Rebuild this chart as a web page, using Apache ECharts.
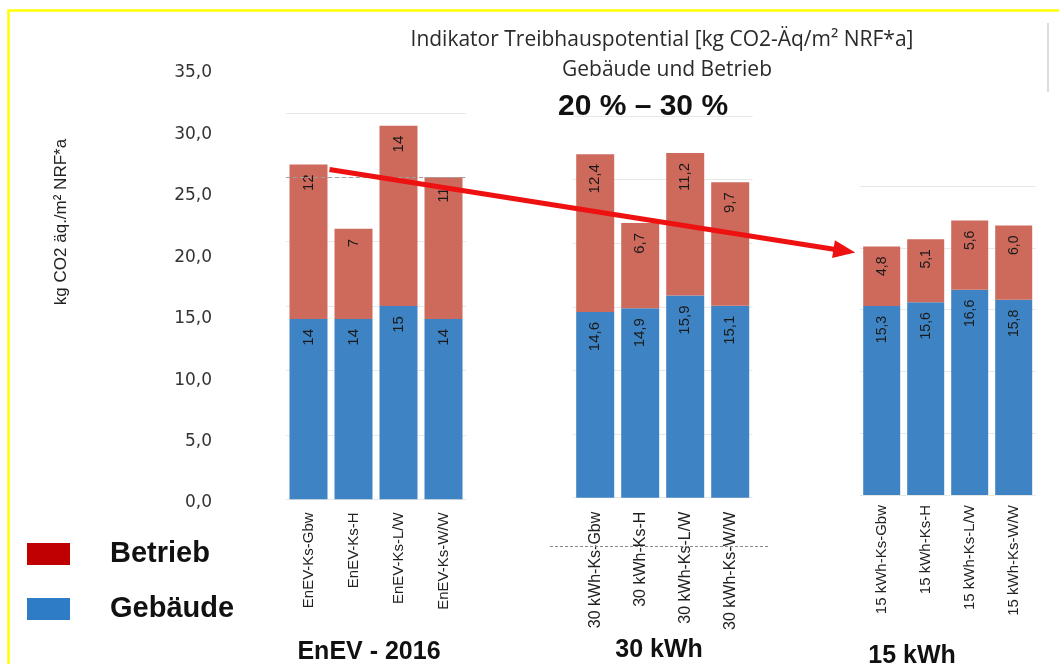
<!DOCTYPE html>
<html>
<head>
<meta charset="utf-8">
<script src="https://cdn.jsdelivr.net/npm/echarts@6/dist/echarts.min.js"></script>
<style>
  html, body { margin: 0; padding: 0; background: #ffffff; }
  #chart { width: 1059px; height: 664px; }
</style>
</head>
<body>
<div id="chart"></div>
<script>
// Categories of the three building standards
const categoriesEnEV = ['EnEV-Ks-Gbw', 'EnEV-Ks-H', 'EnEV-Ks-L/W', 'EnEV-Ks-W/W'];
const categories30 = ['30 kWh-Ks-Gbw', '30 kWh-Ks-H', '30 kWh-Ks-L/W', '30 kWh-Ks-W/W'];
const categories15 = ['15 kWh-Ks-Gbw', '15 kWh-Ks-H', '15 kWh-Ks-L/W', '15 kWh-Ks-W/W'];

// Greenhouse potential, building share (Gebäude) and operation share (Betrieb)
const gebaeudeEnEV = [14, 14, 15, 14];
const betriebEnEV = [12, 7, 14, 11];
const gebaeude30 = [14.6, 14.9, 15.9, 15.1];
const betrieb30 = [12.4, 6.7, 11.2, 9.7];
const gebaeude15 = [15.3, 15.6, 16.6, 15.8];
const betrieb15 = [4.8, 5.1, 5.6, 6.0];

// Axis ticks and captions
const yTicks = [0, 5, 10, 15, 20, 25, 30, 35];
const groupNames = ['EnEV - 2016', '30 kWh', '15 kWh'];
const titleLine1 = 'Indikator Treibhauspotential [kg CO2-Äq/m² NRF*a]';
const titleLine2 = 'Gebäude und Betrieb';
const reductionText = '20 % – 30 %';
const yAxisName = 'kg CO2 äq./m² NRF*a';
const seriesNames = ['Betrieb', 'Gebäude'];

const RED = '#CD6A5C';
const BLUE = '#3E84C4';
const LEGEND_RED = '#C00000';
const LEGEND_BLUE = '#2E7BC6';

const chart = echarts.init(document.getElementById('chart'), null, { renderer: 'canvas' });

const fmtComma = v => v.toFixed(1).replace('.', ',');

const panels = [
  { cats: categoriesEnEV, geb: gebaeudeEnEV, bet: betriebEnEV, max: 30, fmt: v => String(v),
    grid: { left: 286, width: 180, top: 112.9, height: 386.4 },
    fontSize: 15, tickFont: 15, tickMargin: 13, barWidth: 38 },
  { cats: categories30, geb: gebaeude30, bet: betrieb30, max: 30, fmt: fmtComma,
    grid: { left: 572.7, width: 180, top: 116.1, height: 381.6 },
    fontSize: 15, tickFont: 16, tickMargin: 14, barWidth: 38 },
  { cats: categories15, geb: gebaeude15, bet: betrieb15, max: 25, fmt: fmtComma,
    grid: { left: 859.7, width: 176, top: 186, height: 309 },
    fontSize: 14, tickFont: 15, tickMargin: 10, barWidth: 37 }
];

const grids = [{ left: 220, width: 10, top: 73, height: 430 }];
const xAxes = [{ type: 'value', gridIndex: 0, show: false }];
const yAxes = [{
  type: 'value', gridIndex: 0, min: yTicks[0], max: yTicks[yTicks.length - 1], interval: 5,
  axisLine: { show: false }, axisTick: { show: false }, splitLine: { show: false },
  axisLabel: {
    formatter: v => fmtComma(v), margin: 8, fontFamily: 'DejaVu Sans', fontSize: 17, color: '#333333'
  }
}];
const series = [];

panels.forEach((p, i) => {
  const gi = i + 1;
  grids.push(p.grid);
  xAxes.push({
    type: 'category', gridIndex: gi, data: p.cats,
    axisLine: { show: false }, axisTick: { show: false },
    axisLabel: {
      rotate: 90, interval: 0, margin: p.tickMargin,
      fontFamily: 'Liberation Sans', fontSize: p.tickFont, color: '#222222'
    }
  });
  yAxes.push({
    type: 'value', gridIndex: gi, min: 0, max: p.max, interval: 5,
    axisLine: { show: false }, axisTick: { show: false }, axisLabel: { show: false },
    splitLine: { lineStyle: { color: '#e8e8e8', width: 1 } }
  });
  const label = {
    show: true, position: 'insideTop', distance: 10, rotate: 90,
    align: 'right', verticalAlign: 'middle',
    fontFamily: 'Liberation Sans', fontSize: p.fontSize, color: '#1a1a1a',
    formatter: prm => p.fmt(prm.value)
  };
  series.push({
    name: 'Gebäude', type: 'bar', stack: 'panel' + gi, xAxisIndex: gi, yAxisIndex: gi,
    data: p.geb, barWidth: p.barWidth, itemStyle: { color: BLUE }, label: label
  });
  const bet = {
    name: 'Betrieb', type: 'bar', stack: 'panel' + gi, xAxisIndex: gi, yAxisIndex: gi,
    data: p.bet, barWidth: p.barWidth, itemStyle: { color: RED }, label: label
  };
  if (i === 0) {
    // dashed reference at 25 in the EnEV panel
    bet.markLine = {
      silent: true, symbol: 'none', label: { show: false },
      lineStyle: { color: '#a0a0a0', type: [4, 3], width: 1.2 },
      data: [{ yAxis: 25 }]
    };
  }
  series.push(bet);
});

const texts = [
  { x: 662, y: 40, text: titleLine1, font: 'normal 21px "Open Sans"', fill: '#2a2a2a' },
  { x: 667, y: 70, text: titleLine2, font: 'normal 21px "Open Sans"', fill: '#2a2a2a' },
  { x: 643, y: 107, text: reductionText, font: 'bold 30px "Liberation Sans"', fill: '#111' },
  { x: 369, y: 652, text: groupNames[0], font: 'bold 25px "Liberation Sans"', fill: '#111' },
  { x: 659, y: 650, text: groupNames[1], font: 'bold 25px "Liberation Sans"', fill: '#111' },
  { x: 912, y: 656, text: groupNames[2], font: 'bold 25px "Liberation Sans"', fill: '#111' }
];

const graphics = [
  // frame
  { type: 'rect', shape: { x: 8.5, y: 10.5, width: 1080, height: 680 },
    style: { fill: 'none', stroke: '#FFFF00', lineWidth: 2.5 }, z: 100, silent: true },
  // thin separator top right
  { type: 'line', shape: { x1: 1048, y1: 23, x2: 1048, y2: 92 },
    style: { stroke: '#dddddd', lineWidth: 2 }, silent: true },
  // dotted line across the 30 kWh labels
  { type: 'line', shape: { x1: 550, y1: 546.5, x2: 768, y2: 546.5 },
    style: { stroke: '#8a8a8a', lineWidth: 1, lineDash: [3, 2] }, z: 50, silent: true },
  // y axis caption
  { type: 'text', x: 61, y: 222, rotation: Math.PI / 2,
    style: { text: yAxisName, font: 'normal 17px "Liberation Sans"', fill: '#222',
             align: 'center', verticalAlign: 'middle' }, silent: true }
];
texts.forEach(t => graphics.push({
  type: 'text', x: t.x, y: t.y, silent: true,
  style: { text: t.text, font: t.font, fill: t.fill, align: 'center', verticalAlign: 'middle' }
}));

chart.setOption({
  backgroundColor: '#ffffff',
  animation: false,
  legend: {
    orient: 'vertical', left: 22, top: 534, itemWidth: 43, itemHeight: 22, itemGap: 25,
    icon: 'rect', selectedMode: false,
    data: [
      { name: seriesNames[0], itemStyle: { color: LEGEND_RED } },
      { name: seriesNames[1], itemStyle: { color: LEGEND_BLUE } }
    ],
    textStyle: {
      fontFamily: 'Liberation Sans', fontWeight: 'bold', fontSize: 29, color: '#111',
      lineHeight: 30, padding: [0, 0, 0, 35]
    }
  },
  grid: grids,
  xAxis: xAxes,
  yAxis: yAxes,
  series: series,
  graphic: graphics
});

// Trend arrow from the EnEV reference bar to the 15 kWh reference bar
(function () {
  const startTotal = gebaeudeEnEV[0] + betriebEnEV[0];
  const endTotal = gebaeude15[0] + betrieb15[0];
  const s = chart.convertToPixel({ xAxisIndex: 1, yAxisIndex: 1 }, [0, startTotal]);
  const e = chart.convertToPixel({ xAxisIndex: 3, yAxisIndex: 3 }, [0, endTotal]);
  const x1 = s[0] + panels[0].barWidth / 2 + 2, y1 = s[1] + 5;
  const x2 = e[0] - panels[2].barWidth / 2 - 8, y2 = e[1] + 6;
  const dx = x2 - x1, dy = y2 - y1, len = Math.sqrt(dx * dx + dy * dy);
  const ux = dx / len, uy = dy / len;
  const headLen = 22, headHalf = 9;
  const bx = x2 - ux * headLen, by = y2 - uy * headLen;
  chart.setOption({
    graphic: graphics.concat([
      { type: 'line', z: 90, silent: true,
        shape: { x1: x1, y1: y1, x2: bx + ux * 2, y2: by + uy * 2 },
        style: { stroke: '#EE1111', lineWidth: 5 } },
      { type: 'polygon', z: 90, silent: true,
        shape: { points: [[x2, y2], [bx - uy * headHalf, by + ux * headHalf], [bx + uy * headHalf, by - ux * headHalf]] },
        style: { fill: '#EE1111' } }
    ])
  }, { replaceMerge: ['graphic'] });
})();
</script>
</body>
</html>
